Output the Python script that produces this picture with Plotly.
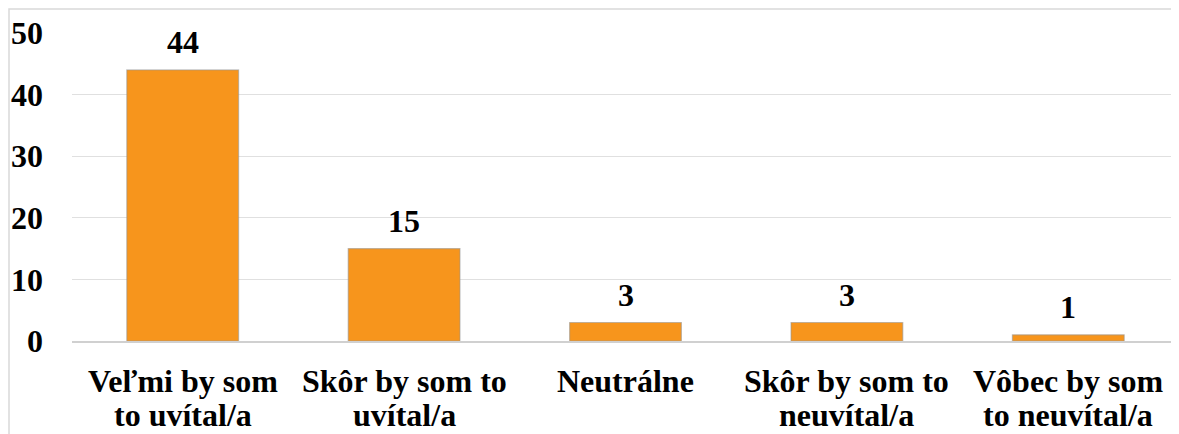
import plotly.graph_objects as go

categories = ["Veľmi by som to uvítal/a", "Skôr by som to uvítal/a", "Neutrálne",
              "Skôr by som to neuvítal/a", "Vôbec by som to neuvítal/a"]
label_lines = [["Veľmi by som", "to uvítal/a"], ["Skôr by som to", "uvítal/a"], ["Neutrálne"],
               ["Skôr by som to", "neuvítal/a"], ["Vôbec by som", "to neuvítal/a"]]
values = [44, 15, 3, 3, 1]
y_ticks = [0, 10, 20, 30, 40, 50]

FONT = "Liberation Serif"
W, H = 1171, 426
ML, MR, MT, MB = 64, 0, 25, 93

fig = go.Figure()
fig.add_trace(go.Bar(
    x=categories, y=values,
    marker=dict(color="#F7951C", line=dict(color="rgba(150,150,150,0.55)", width=1.2)),
    width=0.505,
    hoverinfo="skip",
))

annotations = []
for c, v in zip(categories, values):
    annotations.append(dict(
        x=c, y=v, xref="x", yref="y", text=f"<b>{v}</b>", showarrow=False,
        yanchor="bottom", yshift=8,
        font=dict(family=FONT, size=32, color="black"),
    ))
for c, lines in zip(categories, label_lines):
    for i, line in enumerate(lines):
        annotations.append(dict(
            x=c, y=0, xref="x", yref="paper", text=f"<b>{line}</b>", showarrow=False,
            yanchor="middle", yshift=-40 - 34 * i,
            font=dict(family=FONT, size=32, color="black"),
        ))

pw = W - ML - MR
ph = H - MT - MB
fig.update_layout(
    width=W, height=H,
    margin=dict(l=ML, r=MR, t=MT, b=MB, autoexpand=False),
    paper_bgcolor="white", plot_bgcolor="white",
    showlegend=False,
    annotations=annotations,
    font=dict(family=FONT, color="black"),
    shapes=[dict(type="rect", xref="paper", yref="paper",
                 x0=-(ML - 1) / pw, x1=(W + 5 - ML) / pw,
                 y0=-(MB + 5) / ph, y1=1 + (MT - 1) / ph,
                 line=dict(color="#D9D9D9", width=1.5), layer="below")],
)
fig.update_yaxes(
    range=[0, 50], tickvals=y_ticks, ticktext=[f"<b>{t}</b>" for t in y_ticks],
    tickfont=dict(family=FONT, size=32, color="black"),
    showgrid=True, gridcolor="#E0E0E0", gridwidth=1.2, zeroline=False,
    showline=False, ticklabelstandoff=28, automargin=False,
)
fig.update_xaxes(
    showticklabels=False,
    showline=True, linecolor="#D0D0D0", linewidth=1.5,
    automargin=False,
)

fig.write_html("out.html")
